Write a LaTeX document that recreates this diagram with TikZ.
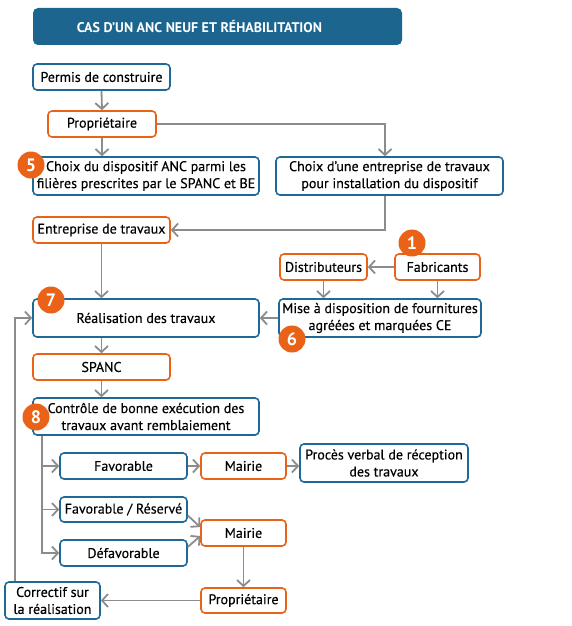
\documentclass[tikz,border=0pt]{standalone}
\usepackage{fontspec}
\setmainfont{PT Sans}
\newfontfamily\boxfont{PT Sans}[FakeBold=0.3]
\usetikzlibrary{arrows.meta,calc}

\definecolor{titleblue}{RGB}{27,101,143}
\definecolor{boxblue}{RGB}{31,105,150}
\definecolor{boxorange}{RGB}{234,98,24}
\definecolor{arrowgray}{RGB}{140,140,140}

\tikzset{
    box/.style={draw, rounded corners=4pt, line width=1.6pt, fill=white,
        inner sep=0pt, align=center, font=\boxfont\fontsize{14}{17}\selectfont},
    bluebox/.style={box, draw=boxblue},
    orangebox/.style={box, draw=boxorange},
    badge/.style={circle, fill=boxorange, text=white, minimum size=27pt, inner sep=0pt,
        font=\fontsize{18}{18}\selectfont\bfseries},
    flow/.style={draw=arrowgray, line width=1.8pt, -{Straight Barb[length=6pt,width=13pt]}}
}

\begin{document}
\begin{tikzpicture}[x=1pt, y=-1pt]
        \useasboundingbox[fill=white] (0,0) rectangle (571,626);

        % Title
        \node[fill=titleblue, rounded corners=5pt, minimum width=369pt, minimum height=37pt,
            text=white, font=\fontsize{14}{16}\selectfont\bfseries] (title) at (217.5,26.5)
            {CAS D’UN ANC NEUF ET RÉHABILITATION\hspace*{36pt}};

        % Top part
        \node[bluebox, minimum width=137pt, minimum height=26pt] (permis) at (101.5,77) {Permis de construire};
        \node[orangebox, minimum width=108pt, minimum height=26pt] (prop1) at (102,124) {Propriétaire};
        \node[bluebox, minimum width=226pt, minimum height=38pt] (choixdisp) at (146,176)
            {Choix du dispositif ANC parmi les\\filières prescrites par le SPANC et BE};
        \node[bluebox, minimum width=227pt, minimum height=38pt] (choixent) at (389.5,176)
            {Choix d’une entreprise de travaux\\pour installation du dispositif};
        \node[orangebox, minimum width=137pt, minimum height=26pt] (entreprise) at (101.5,230) {Entreprise de travaux};

        % Supplies
        \node[orangebox, minimum width=87pt, minimum height=26pt] (distrib) at (323.5,267) {Distributeurs};
        \node[orangebox, minimum width=85pt, minimum height=26pt] (fabric) at (437.5,267) {Fabricants};
        \node[bluebox, minimum width=202pt, minimum height=38pt] (mise) at (380,318)
            {Mise à disposition de fournitures\\agréées et marquées CE};

        % Works and control
        \node[bluebox, minimum width=226pt, minimum height=38pt] (realis) at (146,318) {Réalisation des travaux};
        \node[orangebox, minimum width=137pt, minimum height=26pt] (spanc) at (101.5,367) {SPANC};
        \node[bluebox, minimum width=226pt, minimum height=37pt] (controle) at (146,416.5)
            {Contrôle de bonne exécution des\\travaux avant remblaiement};

        % Outcomes
        \node[bluebox, minimum width=127pt, minimum height=26pt] (fav) at (123.5,466) {Favorable};
        \node[orangebox, minimum width=85pt, minimum height=26pt] (mairieA) at (243.5,466) {Mairie};
        \node[bluebox, minimum width=168pt, minimum height=38pt] (proces) at (384,463)
            {Procès verbal de réception\\des travaux};
        \node[bluebox, minimum width=127pt, minimum height=25pt] (favres) at (123.5,509.5) {Favorable / Réservé};
        \node[orangebox, minimum width=85pt, minimum height=26pt] (mairieB) at (243.5,533) {Mairie};
        \node[bluebox, minimum width=127pt, minimum height=26pt] (defav) at (123.5,553) {Défavorable};
        \node[orangebox, minimum width=85pt, minimum height=25pt] (propB) at (243.5,600.5) {Propriétaire};
        \node[bluebox, minimum width=95pt, minimum height=37pt] (correctif) at (52.5,600.5)
            {Correctif sur\\la réalisation};

        % Arrows
        \draw[flow] (permis.south) -- (prop1.north);
        \draw[flow] (prop1.south) -- (prop1.south |- choixdisp.north);
        \draw[flow] (prop1.east) -| ($(choixent.north)+(-4.5,0)$);
        \draw[flow] ($(choixent.south)+(-4.5,0)$) |- (entreprise.east);
        \draw[flow] (fabric.west) -- (distrib.east);
        \draw[flow] (distrib.south) -- (distrib.south |- mise.north);
        \draw[flow] (fabric.south) -- (fabric.south |- mise.north);
        \draw[flow] (mise.west) -- (realis.east);
        \draw[flow] (entreprise.south) -- (entreprise.south |- realis.north);
        \draw[flow] (spanc.north |- realis.south) -- (spanc.north);
        \draw[flow] (spanc.south) -- (spanc.south |- controle.north);

        % Branches of the control
        \coordinate (branch) at ($(controle.south west)+(10,0)$);
        \draw[flow] (branch) |- (fav.west);
        \draw[flow] (branch) |- (favres.west);
        \draw[flow] (branch) |- (defav.west);
        \draw[flow] (fav.east) -- (mairieA.west);
        \draw[flow] (mairieA.east) -- (mairieA.east -| proces.west);
        \draw[flow] ($(favres.east)+(0,6)$) -- ($(mairieB.west)+(0,-6)$);
        \draw[flow] ($(defav.east)+(0,-6)$) -- ($(mairieB.west)+(0,3)$);
        \draw[flow] (mairieB.south) -- (propB.north);
        \draw[flow] (propB.west) -- (correctif.east);
        \draw[flow] ($(correctif.north west)+(11,0)$) |- (realis.west);

        % Numbered badges
        \node[badge] (b5) at (31,165) {5};
        \node[badge] (b1) at (412,243) {1};
        \node[badge] (b7) at (51,300) {7};
        \node[badge] (b6) at (292,339) {6};
        \node[badge] (b8) at (36,417) {8};

\end{tikzpicture}
\end{document}
